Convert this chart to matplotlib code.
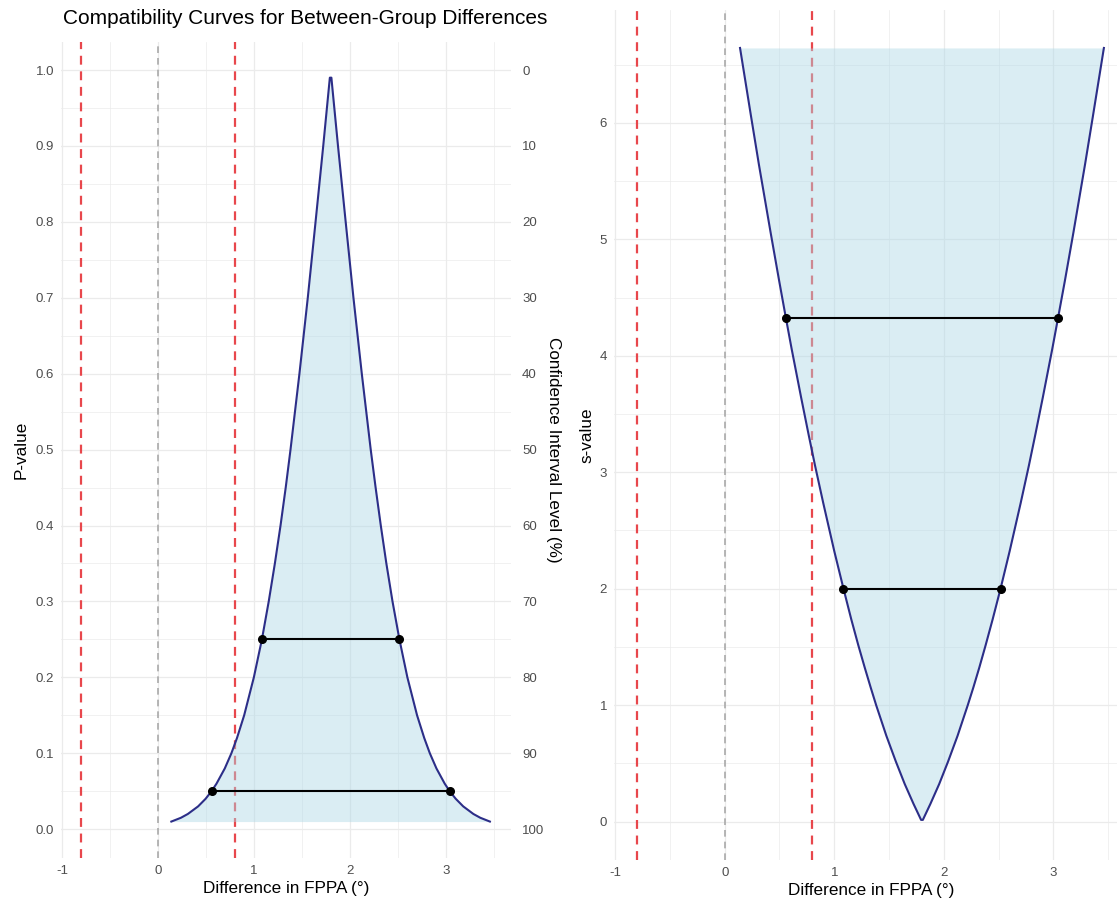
import numpy as np
import matplotlib
matplotlib.use("Agg")
import matplotlib.pyplot as plt
from matplotlib.ticker import MultipleLocator

plt.rcParams['font.family'] = ['Liberation Sans', 'DejaVu Sans']

# p-value levels and the matching interval limits
p_levels = [0.99, 0.9, 0.8, 0.7, 0.6, 0.5, 0.45, 0.4, 0.35, 0.3, 0.25, 0.2,
            0.15, 0.12, 0.1, 0.08, 0.06, 0.05, 0.04, 0.03, 0.02, 0.015, 0.01]
x_lower = [1.792, 1.723, 1.643, 1.562, 1.475, 1.382, 1.332, 1.278, 1.219, 1.155,
           1.084, 1.000, 0.899, 0.824, 0.766, 0.697, 0.611, 0.559, 0.497, 0.419,
           0.312, 0.240, 0.140]
x_upper = [1.808, 1.877, 1.957, 2.038, 2.125, 2.218, 2.269, 2.323, 2.381, 2.445,
           2.517, 2.600, 2.701, 2.776, 2.834, 2.903, 2.989, 3.041, 3.104, 3.182,
           3.288, 3.360, 3.460]
s_levels = [0.0145, 0.152, 0.322, 0.515, 0.737, 1.0, 1.152, 1.322, 1.515, 1.737,
            2.0, 2.322, 2.737, 3.059, 3.322, 3.644, 4.059, 4.322, 4.644, 5.059,
            5.644, 6.059, 6.644]

# highlighted intervals
seg_p = [0.25, 0.05]
seg_s = [2.0, 4.322]
seg_lo = [1.084, 0.559]
seg_hi = [2.517, 3.041]

ref_red = [-0.8, 0.8]
ref_grey = [0]

x_ticks = [-1, 0, 1, 2, 3]

curve_col = '#2c2e88'
fill_col = '#add8e6'
red = '#e8474c'
grid_col = '#ebebeb'
tick_col = '#4d4d4d'

xc = x_lower[::-1] + x_upper
pc = p_levels[::-1] + p_levels
sc = s_levels[::-1] + s_levels

fig = plt.figure(figsize=(11.17, 9.02), dpi=100)
ax1 = fig.add_axes([61 / 1117, 44 / 902, 450 / 1117, 816 / 902])
ax2 = fig.add_axes([614 / 1117, 42 / 902, 514 / 1117, 850 / 902])


def style(ax):
    for sp in ax.spines.values():
        sp.set_visible(False)
    ax.xaxis.set_major_locator(MultipleLocator(1))
    ax.xaxis.set_minor_locator(MultipleLocator(0.5))
    ax.grid(which='major', color=grid_col, lw=0.9)
    ax.grid(which='minor', color=grid_col, lw=0.5)
    ax.set_axisbelow(True)
    ax.tick_params(which='both', length=0, colors=tick_col, labelsize=9.5, pad=5)
    ax.set_xlabel('Difference in FPPA (°)', fontsize=12.3, labelpad=3)
    for v in ref_red:
        ax.axvline(v, color=red, lw=1.6, ls=(0, (4, 3)), zorder=1)
    for v in ref_grey:
        ax.axvline(v, color='#aaaaaa', lw=1.2, ls=(0, (4, 3)), zorder=1)


# left panel: p-value curve
style(ax1)
ax1.fill_between(xc, pc, min(p_levels), color=fill_col, alpha=0.45, lw=0, zorder=2)
ax1.plot(xc, pc, color=curve_col, lw=1.5, zorder=3)
for p, lo, hi in zip(seg_p, seg_lo, seg_hi):
    ax1.plot([lo, hi], [p, p], color='black', lw=1.5, zorder=4)
    ax1.plot([lo, hi], [p, p], 'o', color='black', ms=5.5, zorder=5)
ax1.set_xlim(-1.01, 3.68)
ax1.set_ylim(-0.038, 1.037)
ax1.yaxis.set_major_locator(MultipleLocator(0.1))
ax1.yaxis.set_minor_locator(MultipleLocator(0.05))
ax1.set_xticks(x_ticks)
ax1.set_xticklabels([str(t) for t in x_ticks])
ax1.set_ylabel('P-value', fontsize=12.3, labelpad=5)

sec = ax1.secondary_yaxis('right', functions=(lambda p: (1 - p) * 100,
                                              lambda c: 1 - c / 100))
sec.set_yticks(np.arange(0, 101, 10))
sec.tick_params(length=0, colors=tick_col, labelsize=9.5, pad=8)
for sp in sec.spines.values():
    sp.set_visible(False)
sec.set_ylabel('Confidence Interval Level (%)', fontsize=12.3, rotation=270, labelpad=12)

# right panel: s-value curve
style(ax2)
ax2.fill_between(xc, sc, max(s_levels), color=fill_col, alpha=0.45, lw=0, zorder=2)
ax2.plot(xc, sc, color=curve_col, lw=1.5, zorder=3)
for s, lo, hi in zip(seg_s, seg_lo, seg_hi):
    ax2.plot([lo, hi], [s, s], color='black', lw=1.5, zorder=4)
    ax2.plot([lo, hi], [s, s], 'o', color='black', ms=5.5, zorder=5)
ax2.set_xlim(-1.01, 3.68)
ax2.set_ylim(-0.33, 6.97)
ax2.yaxis.set_major_locator(MultipleLocator(1))
ax2.yaxis.set_minor_locator(MultipleLocator(0.5))
ax2.set_xticks(x_ticks)
ax2.set_xticklabels([str(t) for t in x_ticks])
ax2.set_ylabel('s-value', fontsize=12.3, labelpad=4)

fig.text(63 / 1117, 1 - 19 / 902, 'Compatibility Curves for Between-Group Differences',
         fontsize=15, va='center', ha='left')

fig.savefig('out.png', dpi=100)
